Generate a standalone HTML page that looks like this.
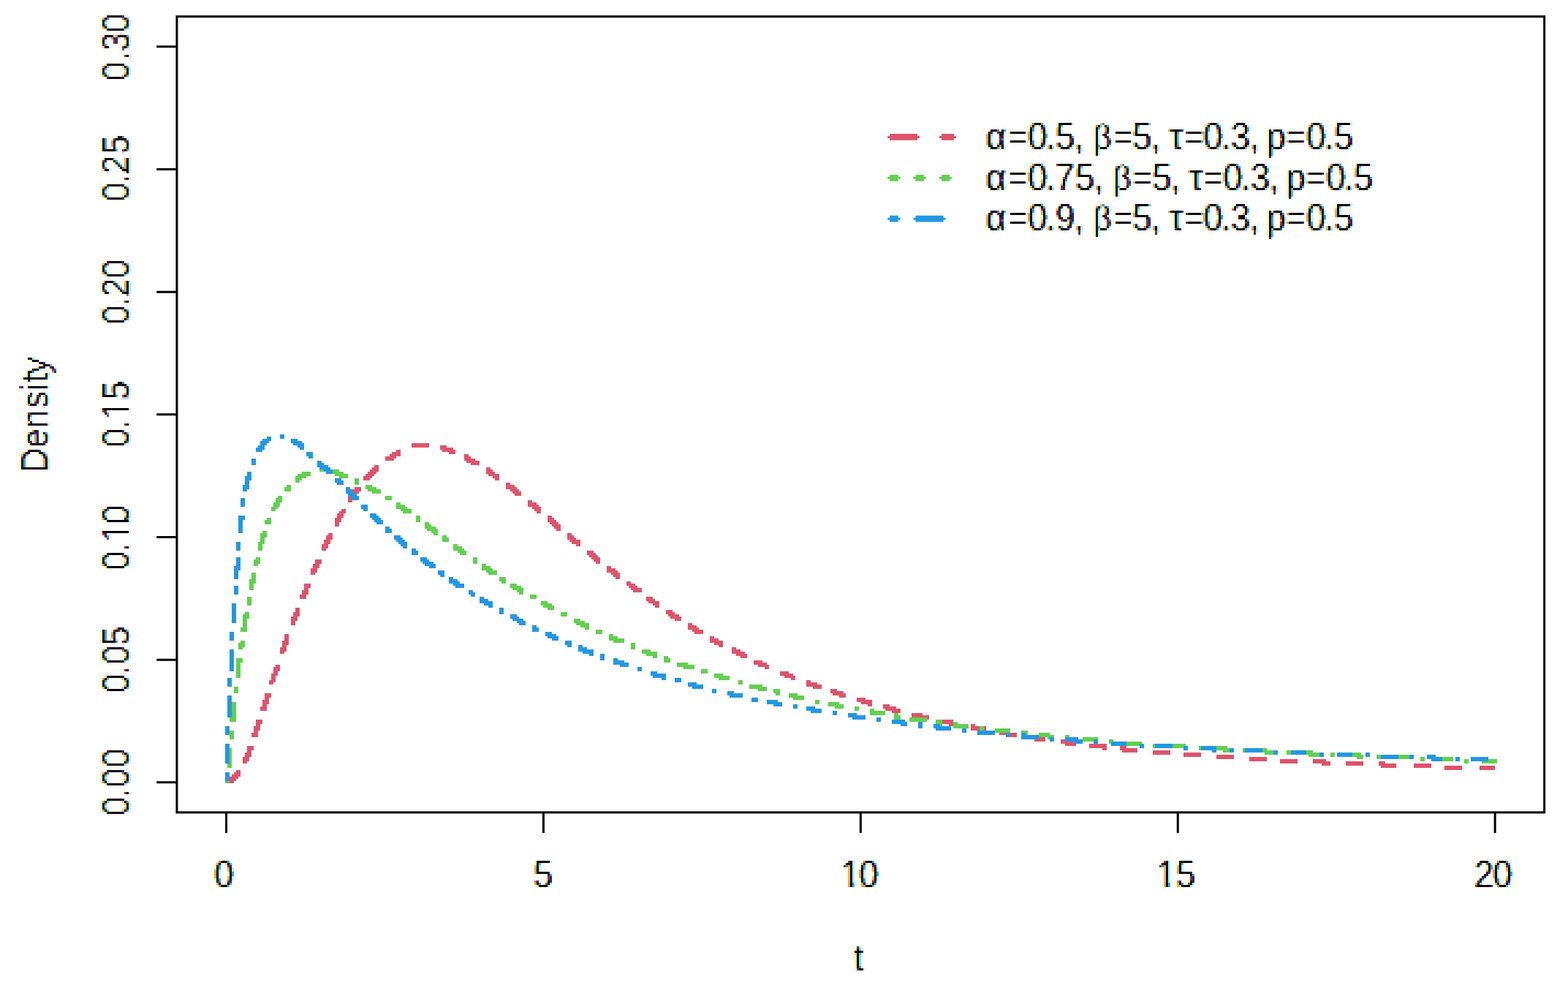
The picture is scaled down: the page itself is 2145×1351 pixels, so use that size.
<!DOCTYPE html>
<html lang="en"><head><meta charset="utf-8"><title>Density plot</title>
<style>html,body{margin:0;padding:0;background:#fff}body{width:2145px;height:1351px;overflow:hidden}svg{display:block}text{font-family:"Liberation Sans",Arial,Helvetica,sans-serif;font-size:48px;fill:#000}</style>
</head><body>
<svg width="2145" height="1351" viewBox="0 0 2145 1351">
<rect x="0" y="0" width="2145" height="1351" fill="#fff"/>
<defs><filter id="fx" filterUnits="userSpaceOnUse" primitiveUnits="userSpaceOnUse" x="287" y="1171" width="1794" height="48" color-interpolation-filters="sRGB"><feGaussianBlur in="SourceAlpha" stdDeviation="0.45 0.9"/><feComponentTransfer><feFuncA type="linear" slope="6" intercept="-3.22"/></feComponentTransfer><feConvolveMatrix order="3 1" kernelMatrix="1 1 1" divisor="3" edgeMode="none" preserveAlpha="false" result="c"/><feFlood x="288" y="1172" width="1" height="1" flood-color="#000" result="p"/><feComposite in="p" in2="p" operator="over" x="287" y="1171" width="3" height="3"/><feTile result="t"/><feComposite in="c" in2="t" operator="in"/><feMorphology operator="dilate" radius="1"/><feColorMatrix type="matrix" values="0 0 0 0 0 0 0 0 1 0 0 0 0 0 0 0 0 0 0 1" result="G"/><feOffset in="c" dx="1" dy="0"/><feComposite in2="t" operator="in"/><feMorphology operator="dilate" radius="1"/><feColorMatrix type="matrix" values="0 0 0 1 0 0 0 0 0 0 0 0 0 0 0 0 0 0 0 1" result="R"/><feOffset in="c" dx="-1" dy="0"/><feComposite in2="t" operator="in"/><feMorphology operator="dilate" radius="1"/><feColorMatrix type="matrix" values="0 0 0 0 0 0 0 0 0 0 0 0 0 1 0 0 0 0 0 1"/><feComposite in2="G" operator="arithmetic" k1="0" k2="1" k3="1" k4="0"/><feComposite in2="R" operator="arithmetic" k1="0" k2="1" k3="1" k4="0"/><feComponentTransfer><feFuncR type="linear" slope="-1.4" intercept="1.1"/><feFuncG type="linear" slope="-1.4" intercept="1.1"/><feFuncB type="linear" slope="-1.4" intercept="1.1"/></feComponentTransfer></filter><filter id="ft" filterUnits="userSpaceOnUse" primitiveUnits="userSpaceOnUse" x="1157" y="1285" width="36" height="48" color-interpolation-filters="sRGB"><feGaussianBlur in="SourceAlpha" stdDeviation="0.45 0.9"/><feComponentTransfer><feFuncA type="linear" slope="6" intercept="-3.22"/></feComponentTransfer><feConvolveMatrix order="3 1" kernelMatrix="1 1 1" divisor="3" edgeMode="none" preserveAlpha="false" result="c"/><feFlood x="1158" y="1286" width="1" height="1" flood-color="#000" result="p"/><feComposite in="p" in2="p" operator="over" x="1157" y="1285" width="3" height="3"/><feTile result="t"/><feComposite in="c" in2="t" operator="in"/><feMorphology operator="dilate" radius="1"/><feColorMatrix type="matrix" values="0 0 0 0 0 0 0 0 1 0 0 0 0 0 0 0 0 0 0 1" result="G"/><feOffset in="c" dx="1" dy="0"/><feComposite in2="t" operator="in"/><feMorphology operator="dilate" radius="1"/><feColorMatrix type="matrix" values="0 0 0 1 0 0 0 0 0 0 0 0 0 0 0 0 0 0 0 1" result="R"/><feOffset in="c" dx="-1" dy="0"/><feComposite in2="t" operator="in"/><feMorphology operator="dilate" radius="1"/><feColorMatrix type="matrix" values="0 0 0 0 0 0 0 0 0 0 0 0 0 1 0 0 0 0 0 1"/><feComposite in2="G" operator="arithmetic" k1="0" k2="1" k3="1" k4="0"/><feComposite in2="R" operator="arithmetic" k1="0" k2="1" k3="1" k4="0"/><feComponentTransfer><feFuncR type="linear" slope="-1.4" intercept="1.1"/><feFuncG type="linear" slope="-1.4" intercept="1.1"/><feFuncB type="linear" slope="-1.4" intercept="1.1"/></feComponentTransfer></filter><filter id="fy" filterUnits="userSpaceOnUse" primitiveUnits="userSpaceOnUse" x="134" y="12" width="48" height="1110" color-interpolation-filters="sRGB"><feGaussianBlur in="SourceAlpha" stdDeviation="0 0.9"/><feComponentTransfer><feFuncA type="linear" slope="6" intercept="-3.52"/></feComponentTransfer><feConvolveMatrix order="3 1" kernelMatrix="1 1 1" divisor="3" edgeMode="none" preserveAlpha="false" result="c"/><feFlood x="135" y="13" width="1" height="1" flood-color="#000" result="p"/><feComposite in="p" in2="p" operator="over" x="134" y="12" width="3" height="3"/><feTile result="t"/><feComposite in="c" in2="t" operator="in"/><feMorphology operator="dilate" radius="1"/><feColorMatrix type="matrix" values="0 0 0 0 0 0 0 0 1 0 0 0 0 0 0 0 0 0 0 1" result="G"/><feOffset in="c" dx="1" dy="0"/><feComposite in2="t" operator="in"/><feMorphology operator="dilate" radius="1"/><feColorMatrix type="matrix" values="0 0 0 1 0 0 0 0 0 0 0 0 0 0 0 0 0 0 0 1" result="R"/><feOffset in="c" dx="-1" dy="0"/><feComposite in2="t" operator="in"/><feMorphology operator="dilate" radius="1"/><feColorMatrix type="matrix" values="0 0 0 0 0 0 0 0 0 0 0 0 0 1 0 0 0 0 0 1"/><feComposite in2="G" operator="arithmetic" k1="0" k2="1" k3="1" k4="0"/><feComposite in2="R" operator="arithmetic" k1="0" k2="1" k3="1" k4="0"/><feComponentTransfer><feFuncR type="linear" slope="-1.4" intercept="1.1"/><feFuncG type="linear" slope="-1.4" intercept="1.1"/><feFuncB type="linear" slope="-1.4" intercept="1.1"/></feComponentTransfer></filter><filter id="fd" filterUnits="userSpaceOnUse" primitiveUnits="userSpaceOnUse" x="23" y="480" width="63" height="171" color-interpolation-filters="sRGB"><feGaussianBlur in="SourceAlpha" stdDeviation="0 0.9"/><feComponentTransfer><feFuncA type="linear" slope="6" intercept="-3.52"/></feComponentTransfer><feConvolveMatrix order="3 1" kernelMatrix="1 1 1" divisor="3" edgeMode="none" preserveAlpha="false" result="c"/><feFlood x="24" y="481" width="1" height="1" flood-color="#000" result="p"/><feComposite in="p" in2="p" operator="over" x="23" y="480" width="3" height="3"/><feTile result="t"/><feComposite in="c" in2="t" operator="in"/><feMorphology operator="dilate" radius="1"/><feColorMatrix type="matrix" values="0 0 0 0 0 0 0 0 1 0 0 0 0 0 0 0 0 0 0 1" result="G"/><feOffset in="c" dx="1" dy="0"/><feComposite in2="t" operator="in"/><feMorphology operator="dilate" radius="1"/><feColorMatrix type="matrix" values="0 0 0 1 0 0 0 0 0 0 0 0 0 0 0 0 0 0 0 1" result="R"/><feOffset in="c" dx="-1" dy="0"/><feComposite in2="t" operator="in"/><feMorphology operator="dilate" radius="1"/><feColorMatrix type="matrix" values="0 0 0 0 0 0 0 0 0 0 0 0 0 1 0 0 0 0 0 1"/><feComposite in2="G" operator="arithmetic" k1="0" k2="1" k3="1" k4="0"/><feComposite in2="R" operator="arithmetic" k1="0" k2="1" k3="1" k4="0"/><feComponentTransfer><feFuncR type="linear" slope="-1.4" intercept="1.1"/><feFuncG type="linear" slope="-1.4" intercept="1.1"/><feFuncB type="linear" slope="-1.4" intercept="1.1"/></feComponentTransfer></filter><filter id="fl1" filterUnits="userSpaceOnUse" primitiveUnits="userSpaceOnUse" x="1343" y="162" width="546" height="57" color-interpolation-filters="sRGB"><feGaussianBlur in="SourceAlpha" stdDeviation="0.45 0.9"/><feComponentTransfer><feFuncA type="linear" slope="6" intercept="-3.22"/></feComponentTransfer><feConvolveMatrix order="3 1" kernelMatrix="1 1 1" divisor="3" edgeMode="none" preserveAlpha="false" result="c"/><feFlood x="1344" y="163" width="1" height="1" flood-color="#000" result="p"/><feComposite in="p" in2="p" operator="over" x="1343" y="162" width="3" height="3"/><feTile result="t"/><feComposite in="c" in2="t" operator="in"/><feMorphology operator="dilate" radius="1"/><feColorMatrix type="matrix" values="0 0 0 0 0 0 0 0 1 0 0 0 0 0 0 0 0 0 0 1" result="G"/><feOffset in="c" dx="1" dy="0"/><feComposite in2="t" operator="in"/><feMorphology operator="dilate" radius="1"/><feColorMatrix type="matrix" values="0 0 0 1 0 0 0 0 0 0 0 0 0 0 0 0 0 0 0 1" result="R"/><feOffset in="c" dx="-1" dy="0"/><feComposite in2="t" operator="in"/><feMorphology operator="dilate" radius="1"/><feColorMatrix type="matrix" values="0 0 0 0 0 0 0 0 0 0 0 0 0 1 0 0 0 0 0 1"/><feComposite in2="G" operator="arithmetic" k1="0" k2="1" k3="1" k4="0"/><feComposite in2="R" operator="arithmetic" k1="0" k2="1" k3="1" k4="0"/><feComponentTransfer><feFuncR type="linear" slope="-1.4" intercept="1.1"/><feFuncG type="linear" slope="-1.4" intercept="1.1"/><feFuncB type="linear" slope="-1.4" intercept="1.1"/></feComponentTransfer></filter><filter id="fl2" filterUnits="userSpaceOnUse" primitiveUnits="userSpaceOnUse" x="1343" y="221" width="546" height="54" color-interpolation-filters="sRGB"><feGaussianBlur in="SourceAlpha" stdDeviation="0.45 0.9"/><feComponentTransfer><feFuncA type="linear" slope="6" intercept="-3.22"/></feComponentTransfer><feConvolveMatrix order="3 1" kernelMatrix="1 1 1" divisor="3" edgeMode="none" preserveAlpha="false" result="c"/><feFlood x="1344" y="222" width="1" height="1" flood-color="#000" result="p"/><feComposite in="p" in2="p" operator="over" x="1343" y="221" width="3" height="3"/><feTile result="t"/><feComposite in="c" in2="t" operator="in"/><feMorphology operator="dilate" radius="1"/><feColorMatrix type="matrix" values="0 0 0 0 0 0 0 0 1 0 0 0 0 0 0 0 0 0 0 1" result="G"/><feOffset in="c" dx="1" dy="0"/><feComposite in2="t" operator="in"/><feMorphology operator="dilate" radius="1"/><feColorMatrix type="matrix" values="0 0 0 1 0 0 0 0 0 0 0 0 0 0 0 0 0 0 0 1" result="R"/><feOffset in="c" dx="-1" dy="0"/><feComposite in2="t" operator="in"/><feMorphology operator="dilate" radius="1"/><feColorMatrix type="matrix" values="0 0 0 0 0 0 0 0 0 0 0 0 0 1 0 0 0 0 0 1"/><feComposite in2="G" operator="arithmetic" k1="0" k2="1" k3="1" k4="0"/><feComposite in2="R" operator="arithmetic" k1="0" k2="1" k3="1" k4="0"/><feComponentTransfer><feFuncR type="linear" slope="-1.4" intercept="1.1"/><feFuncG type="linear" slope="-1.4" intercept="1.1"/><feFuncB type="linear" slope="-1.4" intercept="1.1"/></feComponentTransfer></filter><filter id="fl3" filterUnits="userSpaceOnUse" primitiveUnits="userSpaceOnUse" x="1343" y="276" width="546" height="54" color-interpolation-filters="sRGB"><feGaussianBlur in="SourceAlpha" stdDeviation="0.45 0.9"/><feComponentTransfer><feFuncA type="linear" slope="6" intercept="-3.22"/></feComponentTransfer><feConvolveMatrix order="3 1" kernelMatrix="1 1 1" divisor="3" edgeMode="none" preserveAlpha="false" result="c"/><feFlood x="1344" y="277" width="1" height="1" flood-color="#000" result="p"/><feComposite in="p" in2="p" operator="over" x="1343" y="276" width="3" height="3"/><feTile result="t"/><feComposite in="c" in2="t" operator="in"/><feMorphology operator="dilate" radius="1"/><feColorMatrix type="matrix" values="0 0 0 0 0 0 0 0 1 0 0 0 0 0 0 0 0 0 0 1" result="G"/><feOffset in="c" dx="1" dy="0"/><feComposite in2="t" operator="in"/><feMorphology operator="dilate" radius="1"/><feColorMatrix type="matrix" values="0 0 0 1 0 0 0 0 0 0 0 0 0 0 0 0 0 0 0 1" result="R"/><feOffset in="c" dx="-1" dy="0"/><feComposite in2="t" operator="in"/><feMorphology operator="dilate" radius="1"/><feColorMatrix type="matrix" values="0 0 0 0 0 0 0 0 0 0 0 0 0 1 0 0 0 0 0 1"/><feComposite in2="G" operator="arithmetic" k1="0" k2="1" k3="1" k4="0"/><feComposite in2="R" operator="arithmetic" k1="0" k2="1" k3="1" k4="0"/><feComponentTransfer><feFuncR type="linear" slope="-1.4" intercept="1.1"/><feFuncG type="linear" slope="-1.4" intercept="1.1"/><feFuncB type="linear" slope="-1.4" intercept="1.1"/></feComponentTransfer></filter></defs>
<g filter="url(#fx)">
<text transform="translate(0 1213) scale(1 1.083)" x="293.12" y="0">0</text>
<text transform="translate(0 1213) scale(1 1.083)" x="729.88" y="0">5</text>
<text transform="translate(0 1213) scale(1 1.083)" x="1150.3 1175.12" y="0">10</text>
<text transform="translate(0 1213) scale(1 1.083)" x="1582.3 1608.88" y="0">15</text>
<text transform="translate(0 1213) scale(1 1.083)" x="2016.64 2042.12" y="0">20</text>
</g>
<g filter="url(#ft)">
<text transform="translate(0 1327) scale(1 1.083)" x="1167.73" y="0">t</text>
</g>
<g filter="url(#fy)">
<text transform="translate(176 1069.8) rotate(-90) scale(1 1.083)" x="-46.08 -21.38 -7.08 19.92" y="0">0.00</text>
<text transform="translate(176 902.13) rotate(-90) scale(1 1.083)" x="-45.75 -21.04 -6.75 19.01" y="0">0.05</text>
<text transform="translate(176 734.47) rotate(-90) scale(1 1.083)" x="-45.41 -20.71 -7.23 17.59" y="0">0.10</text>
<text transform="translate(176 566.8) rotate(-90) scale(1 1.083)" x="-45.08 -20.37 -6.9 19.68" y="0">0.15</text>
<text transform="translate(176 399.14) rotate(-90) scale(1 1.083)" x="-44.74 -20.04 -7.46 18.26" y="0">0.20</text>
<text transform="translate(176 231.47) rotate(-90) scale(1 1.083)" x="-44.41 -19.7 -7.39 20.35" y="0">0.25</text>
<text transform="translate(176 63.81) rotate(-90) scale(1 1.083)" x="-47.07 -19.37 -6.67 18.93" y="0">0.30</text>
</g>
<g filter="url(#fd)">
<text transform="translate(65 565.1) rotate(-90) scale(1 1.083)" x="-81.56 -47.72 -20.84 6.37 30.28 41.83 53.48" y="0">Density</text>
</g>
<g filter="url(#fl1)">
<text transform="translate(0 204) scale(1 1.083)" x="1348.6 1379.68 1406.12 1430.82 1443.88 1469.56 1483.33 1495.52 1523.48 1548.88 1574.56 1589.33 1599.17 1620.48 1646.12 1670.82 1683.52 1709.56 1724.33 1732.16 1759.78 1787.12 1811.82 1824.88" y="0 -0.65 0 0 0 0 0 0 -0.65 0 0 0 0 -0.65 0 0 0 0 0 0 -0.65 0 0 0">α<tspan font-size="44.3">=</tspan>0.5, <tspan font-size="44">β</tspan><tspan font-size="44.3">=</tspan>5, τ<tspan font-size="44.3">=</tspan>0.3, p<tspan font-size="44.3">=</tspan>0.5</text>
</g>
<g filter="url(#fl2)">
<text transform="translate(0 260) scale(1 1.083)" x="1348.6 1379.68 1406.12 1430.82 1443.27 1470.88 1496.56 1509.93 1522.52 1550.08 1575.88 1601.56 1615.93 1626.17 1647.08 1673.12 1697.82 1710.52 1736.56 1750.93 1759.16 1786.38 1814.12 1838.82 1851.88" y="0 -0.65 0 0 0 0 0 0 0 -0.65 0 0 0 0 -0.65 0 0 0 0 0 0 -0.65 0 0 0">α<tspan font-size="44.3">=</tspan>0.75, <tspan font-size="44">β</tspan><tspan font-size="44.3">=</tspan>5, τ<tspan font-size="44.3">=</tspan>0.3, p<tspan font-size="44.3">=</tspan>0.5</text>
</g>
<g filter="url(#fl3)">
<text transform="translate(0 315) scale(1 1.083)" x="1348.6 1379.68 1406.12 1430.82 1443.76 1469.56 1483.33 1495.52 1523.48 1548.88 1574.56 1589.33 1599.17 1620.48 1646.12 1670.82 1683.52 1709.56 1724.33 1732.16 1759.78 1787.12 1811.82 1824.88" y="0 -0.65 0 0 0 0 0 0 -0.65 0 0 0 0 -0.65 0 0 0 0 0 0 -0.65 0 0 0">α<tspan font-size="44.3">=</tspan>0.9, <tspan font-size="44">β</tspan><tspan font-size="44.3">=</tspan>5, τ<tspan font-size="44.3">=</tspan>0.3, p<tspan font-size="44.3">=</tspan>0.5</text>
</g>
<g shape-rendering="crispEdges"><rect x="170" y="543" width="6" height="3" fill="#cecece"/><rect x="176" y="543" width="3" height="3" fill="#ffffff"/><rect x="170" y="546" width="9" height="3" fill="#ffffff"/><rect x="170" y="549" width="9" height="3" fill="#ffffff"/><rect x="170" y="552" width="9" height="3" fill="#ffffff"/><rect x="170" y="555" width="9" height="3" fill="#ffffff"/><rect x="170" y="558" width="6" height="3" fill="#000000"/><rect x="176" y="558" width="3" height="3" fill="#abffff"/><rect x="170" y="561" width="9" height="3" fill="#ffffff"/><rect x="170" y="564" width="9" height="3" fill="#ffffff"/><rect x="170" y="567" width="9" height="3" fill="#ffffff"/><rect x="170" y="570" width="9" height="3" fill="#ffffff"/><rect x="170" y="573" width="9" height="3" fill="#ffffff"/><rect x="170" y="711" width="6" height="3" fill="#00001c"/><rect x="176" y="711" width="3" height="3" fill="#abffff"/><rect x="170" y="714" width="9" height="3" fill="#ffffff"/><rect x="170" y="717" width="9" height="3" fill="#ffffff"/><rect x="170" y="720" width="9" height="3" fill="#ffffff"/><rect x="170" y="723" width="9" height="3" fill="#ffffff"/><rect x="170" y="726" width="6" height="3" fill="#000000"/><rect x="176" y="726" width="3" height="3" fill="#abffff"/><rect x="170" y="729" width="9" height="3" fill="#ffffff"/><rect x="170" y="732" width="9" height="3" fill="#ffffff"/><rect x="170" y="735" width="9" height="3" fill="#ffffff"/><rect x="170" y="738" width="9" height="3" fill="#ffffff"/><rect x="170" y="741" width="9" height="3" fill="#ffffff"/><rect x="1163" y="1210" width="3" height="3" fill="#000000"/><rect x="1595" y="1210" width="3" height="3" fill="#000000"/><rect x="1166" y="1210" width="3" height="3" fill="#34abff"/><rect x="1598" y="1210" width="3" height="3" fill="#34abff"/><rect x="1160" y="1210" width="3" height="3" fill="#ffa12a"/><rect x="1178" y="1210" width="3" height="3" fill="#ffa12a"/><rect x="1592" y="1210" width="3" height="3" fill="#ffa12a"/><rect x="1610" y="1210" width="3" height="3" fill="#ffa12a"/><rect x="1148" y="1210" width="12" height="3" fill="#ffffff"/><rect x="1169" y="1210" width="9" height="3" fill="#ffffff"/><rect x="1580" y="1210" width="12" height="3" fill="#ffffff"/><rect x="1601" y="1210" width="9" height="3" fill="#ffffff"/></g>
<g shape-rendering="crispEdges">
<path fill="#DF536B" d="M563 606h24v6h-24zM602 609h9v3h-9zM602 612h18v3h-18zM542 615h6v3h-6zM605 615h18v3h-18zM536 618h12v3h-12zM614 618h9v3h-9zM533 621h15v3h-15zM635 621h6v3h-6zM527 624h15v3h-15zM635 624h9v3h-9zM527 627h12v3h-12zM635 627h15v3h-15zM638 630h18v3h-18zM644 633h12v3h-12zM512 636h6v3h-6zM509 639h9v3h-9zM665 639h6v3h-6zM506 642h12v3h-12zM665 642h9v3h-9zM503 645h12v3h-12zM665 645h12v3h-12zM500 648h12v3h-12zM668 648h15v3h-15zM497 651h12v3h-12zM674 651h9v3h-9zM497 654h9v3h-9zM677 654h6v3h-6zM692 660h6v3h-6zM692 663h12v3h-12zM485 666h9v3h-9zM692 666h15v3h-15zM482 669h12v3h-12zM698 669h12v3h-12zM482 672h9v3h-9zM701 672h12v3h-12zM479 675h9v3h-9zM704 675h9v3h-9zM476 678h12v3h-12zM476 681h9v3h-9zM476 684h6v3h-6zM722 684h6v3h-6zM722 687h12v3h-12zM722 690h15v3h-15zM728 693h12v3h-12zM467 696h6v3h-6zM731 696h9v3h-9zM464 699h9v3h-9zM734 699h6v3h-6zM461 702h9v6h-9zM749 705h6v3h-6zM458 708h9v6h-9zM749 708h9v3h-9zM749 711h12v3h-12zM458 714h6v6h-6zM752 714h12v3h-12zM755 717h12v3h-12zM758 720h9v3h-9zM761 723h6v3h-6zM449 729h6v3h-6zM776 729h6v3h-6zM446 732h9v6h-9zM776 732h9v3h-9zM776 735h12v3h-12zM443 738h9v6h-9zM779 738h15v3h-15zM782 741h12v3h-12zM440 744h9v6h-9zM788 744h6v3h-6zM440 750h6v3h-6zM803 753h9v3h-9zM803 756h12v3h-12zM806 759h12v3h-12zM809 762h12v3h-12zM431 765h9v6h-9zM812 765h9v3h-9zM815 768h6v3h-6zM428 771h9v6h-9zM830 774h6v3h-6zM425 777h9v6h-9zM830 777h12v3h-12zM830 780h15v3h-15zM425 783h6v3h-6zM836 783h12v3h-12zM839 786h9v3h-9zM842 789h6v3h-6zM857 795h6v3h-6zM416 798h9v6h-9zM857 798h12v3h-12zM860 801h12v3h-12zM416 804h6v3h-6zM863 804h15v3h-15zM413 807h9v6h-9zM866 807h12v3h-12zM410 813h9v6h-9zM884 816h9v3h-9zM884 819h12v3h-12zM887 822h15v3h-15zM893 825h9v3h-9zM896 828h6v3h-6zM404 831h6v6h-6zM911 834h9v3h-9zM401 837h9v6h-9zM911 837h12v3h-12zM914 840h15v3h-15zM398 843h9v6h-9zM917 843h15v3h-15zM923 846h9v3h-9zM398 849h6v6h-6zM941 852h6v3h-6zM941 855h12v3h-12zM941 858h15v3h-15zM947 861h15v3h-15zM950 864h12v3h-12zM389 867h6v9h-6zM971 870h6v3h-6zM971 873h12v3h-12zM386 876h9v6h-9zM971 876h18v3h-18zM977 879h12v3h-12zM386 882h6v3h-6zM983 882h6v3h-6zM383 885h9v6h-9zM1001 885h6v3h-6zM1001 888h12v3h-12zM383 891h6v3h-6zM1001 891h18v3h-18zM1007 894h15v3h-15zM1013 897h9v3h-9zM1031 903h12v3h-12zM1031 906h18v3h-18zM377 909h6v3h-6zM1037 909h15v3h-15zM374 912h9v6h-9zM1046 912h6v3h-6zM374 918h6v3h-6zM1067 918h12v3h-12zM371 921h9v3h-9zM1067 921h18v3h-18zM371 924h6v6h-6zM1073 924h15v3h-15zM1082 927h6v3h-6zM368 930h9v3h-9zM1103 930h6v3h-6zM368 933h6v3h-6zM1103 933h15v3h-15zM1103 936h21v3h-21zM1112 939h12v3h-12zM1136 942h9v3h-9zM1136 945h18v3h-18zM362 948h9v6h-9zM1139 948h18v3h-18zM1148 951h9v3h-9zM362 954h6v3h-6zM1172 954h12v3h-12zM359 957h9v6h-9zM1172 957h21v3h-21zM1178 960h15v3h-15zM359 963h6v3h-6zM1187 963h6v3h-6zM1208 963h9v3h-9zM356 966h9v6h-9zM1208 966h18v3h-18zM1211 969h21v3h-21zM1220 972h12v3h-12zM1247 975h15v3h-15zM1247 978h24v3h-24zM1259 981h12v3h-12zM350 984h9v6h-9zM1286 984h18v3h-18zM1286 987h24v3h-24zM350 990h6v3h-6zM1298 990h12v3h-12zM1328 990h6v3h-6zM347 993h9v6h-9zM1328 993h21v6h-21zM347 999h6v3h-6zM1343 999h6v3h-6zM1367 999h15v3h-15zM344 1002h9v6h-9zM1367 1002h24v3h-24zM1376 1005h15v3h-15zM1409 1005h12v3h-12zM1409 1008h21v3h-21zM1415 1011h15v3h-15zM1451 1011h12v3h-12zM1451 1014h21v3h-21zM1457 1017h15v3h-15zM1490 1017h24v6h-24zM338 1020h9v6h-9zM1532 1020h9v3h-9zM1508 1023h6v3h-6zM1532 1023h24v3h-24zM338 1026h6v3h-6zM1535 1026h21v3h-21zM1577 1026h24v6h-24zM335 1029h9v6h-9zM1619 1029h24v6h-24zM1664 1032h24v6h-24zM332 1035h9v6h-9zM1709 1035h24v6h-24zM1751 1038h24v6h-24zM1796 1038h18v3h-18zM332 1041h6v3h-6zM1796 1041h24v3h-24zM1841 1041h24v6h-24zM1886 1041h9v3h-9zM1808 1044h12v3h-12zM1886 1044h24v3h-24zM1934 1044h24v6h-24zM1889 1047h21v3h-21zM1976 1047h24v6h-24zM2024 1047h21v6h-21zM323 1053h6v3h-6zM320 1056h9v3h-9zM317 1059h12v3h-12zM314 1062h12v3h-12zM311 1065h12v3h-12zM311 1068h9v3h-9z"/>
<path fill="#61D04F" d="M437 639h6v6h-6zM455 642h9v3h-9zM413 645h12v3h-12zM455 645h15v3h-15zM407 648h18v3h-18zM458 648h18v3h-18zM404 651h15v3h-15zM464 651h12v3h-12zM404 654h9v3h-9zM485 654h6v9h-6zM404 657h6v3h-6zM392 663h6v3h-6zM500 663h9v3h-9zM389 666h9v6h-9zM500 666h15v3h-15zM503 669h18v3h-18zM509 672h12v3h-12zM380 678h6v3h-6zM527 678h9v6h-9zM377 681h9v6h-9zM374 687h9v6h-9zM542 687h6v3h-6zM542 690h12v3h-12zM371 693h9v3h-9zM542 693h15v3h-15zM371 696h6v3h-6zM548 696h15v3h-15zM551 699h12v3h-12zM569 705h6v9h-6zM365 708h6v3h-6zM362 711h9v6h-9zM581 714h6v3h-6zM581 717h9v3h-9zM581 720h15v3h-15zM584 723h15v3h-15zM359 726h6v3h-6zM590 726h9v3h-9zM356 729h9v6h-9zM593 729h6v3h-6zM605 732h6v3h-6zM356 735h6v6h-6zM605 735h9v6h-9zM353 741h9v3h-9zM353 744h6v9h-6zM620 744h6v3h-6zM620 747h12v3h-12zM620 750h15v3h-15zM626 753h12v3h-12zM629 756h9v3h-9zM350 762h6v3h-6zM647 762h6v9h-6zM347 765h9v6h-9zM347 771h6v3h-6zM659 771h6v3h-6zM659 774h12v3h-12zM659 777h15v3h-15zM665 780h15v3h-15zM344 783h6v9h-6zM668 783h12v3h-12zM683 789h9v6h-9zM341 792h9v6h-9zM686 795h6v3h-6zM341 798h6v9h-6zM698 798h9v3h-9zM698 801h15v3h-15zM701 804h15v3h-15zM707 807h9v3h-9zM710 810h6v3h-6zM725 813h9v6h-9zM338 816h6v12h-6zM740 822h9v3h-9zM740 825h15v3h-15zM743 828h15v3h-15zM749 831h9v3h-9zM335 837h6v3h-6zM767 837h9v6h-9zM332 840h9v6h-9zM332 846h6v12h-6zM785 846h9v3h-9zM785 849h15v3h-15zM788 852h18v3h-18zM794 855h12v3h-12zM329 858h9v6h-9zM800 858h6v3h-6zM815 861h9v6h-9zM833 867h6v3h-6zM833 870h12v3h-12zM833 873h21v3h-21zM329 876h6v3h-6zM839 876h15v3h-15zM326 879h9v6h-9zM863 879h6v9h-6zM326 885h6v3h-6zM878 888h12v3h-12zM878 891h21v3h-21zM884 894h15v3h-15zM893 897h6v3h-6zM908 897h6v3h-6zM323 900h9v6h-9zM908 900h9v6h-9zM323 906h6v21h-6zM926 906h15v3h-15zM926 909h24v3h-24zM935 912h15v3h-15zM959 915h9v6h-9zM977 921h12v3h-12zM977 924h21v3h-21zM983 927h15v3h-15zM1010 930h6v6h-6zM1025 936h18v3h-18zM320 939h6v9h-6zM1025 939h24v3h-24zM1037 942h12v3h-12zM1058 942h9v6h-9zM1061 948h6v3h-6zM1079 948h12v3h-12zM1079 951h21v3h-21zM1085 954h15v3h-15zM1115 957h6v6h-6zM317 960h6v21h-6zM1133 960h15v3h-15zM1133 963h21v3h-21zM1142 966h12v3h-12zM1169 966h6v6h-6zM1190 969h6v3h-6zM1190 972h21v6h-21zM1223 975h6v3h-6zM1223 978h9v6h-9zM314 981h9v6h-9zM1244 981h24v6h-24zM1280 984h9v6h-9zM1304 987h6v3h-6zM1283 990h6v3h-6zM1304 990h21v6h-21zM1340 993h6v6h-6zM1361 996h21v6h-21zM314 999h6v12h-6zM1397 999h9v6h-9zM1376 1002h6v3h-6zM1421 1002h15v3h-15zM1421 1005h21v3h-21zM1457 1005h6v6h-6zM1433 1008h9v3h-9zM1481 1008h21v6h-21zM1517 1011h6v6h-6zM1496 1014h6v3h-6zM1541 1014h21v6h-21zM1577 1017h6v6h-6zM1601 1017h21v6h-21zM1640 1020h6v6h-6zM1661 1020h18v3h-18zM311 1023h6v27h-6zM1661 1023h24v3h-24zM1700 1023h6v6h-6zM1724 1023h9v3h-9zM1673 1026h12v3h-12zM1724 1026h21v3h-21zM1760 1026h6v6h-6zM1781 1026h15v3h-15zM1730 1029h15v3h-15zM1781 1029h24v3h-24zM1820 1029h6v6h-6zM1844 1029h18v3h-18zM1790 1032h15v3h-15zM1844 1032h21v3h-21zM1883 1032h6v6h-6zM1904 1032h24v6h-24zM1856 1035h9v3h-9zM1943 1035h6v6h-6zM1967 1035h21v6h-21zM2003 1038h6v6h-6zM2027 1038h21v6h-21zM308 1062h6v9h-6z"/>
<path fill="#2297E6" d="M383 594h6v6h-6zM365 597h6v3h-6zM359 600h12v3h-12zM398 600h9v3h-9zM356 603h12v3h-12zM398 603h15v3h-15zM356 606h9v3h-9zM401 606h15v3h-15zM353 609h9v3h-9zM407 609h9v3h-9zM350 612h12v3h-12zM410 612h6v3h-6zM350 615h9v3h-9zM419 618h9v6h-9zM422 624h6v3h-6zM344 627h6v9h-6zM434 630h6v3h-6zM434 633h9v3h-9zM434 636h15v3h-15zM437 639h15v3h-15zM443 642h12v3h-12zM338 645h6v6h-6zM446 645h9v3h-9zM335 651h9v6h-9zM458 654h9v3h-9zM335 657h6v6h-6zM458 657h12v3h-12zM461 660h9v3h-9zM332 663h9v6h-9zM473 666h6v3h-6zM332 669h6v3h-6zM473 669h9v3h-9zM473 672h12v3h-12zM476 675h12v3h-12zM479 678h12v3h-12zM329 681h6v12h-6zM482 681h9v3h-9zM494 690h9v6h-9zM497 696h6v3h-6zM506 702h9v3h-9zM326 705h9v6h-9zM506 705h12v3h-12zM509 708h12v3h-12zM326 711h6v18h-6zM512 711h12v3h-12zM515 714h9v3h-9zM527 720h6v3h-6zM527 723h9v6h-9zM539 732h9v3h-9zM539 735h12v3h-12zM542 738h12v3h-12zM323 741h6v12h-6zM545 741h12v3h-12zM548 744h9v3h-9zM551 747h6v3h-6zM563 750h6v3h-6zM563 753h9v6h-9zM323 762h6v12h-6zM575 762h9v3h-9zM575 765h12v3h-12zM578 768h15v3h-15zM581 771h15v3h-15zM320 774h9v6h-9zM587 774h9v3h-9zM320 780h6v12h-6zM599 780h9v6h-9zM602 786h6v3h-6zM614 789h6v3h-6zM614 792h12v3h-12zM614 795h15v3h-15zM620 798h15v3h-15zM320 801h6v12h-6zM623 801h12v3h-12zM641 807h6v3h-6zM641 810h9v3h-9zM644 813h6v3h-6zM656 816h6v3h-6zM656 819h12v3h-12zM656 822h18v3h-18zM317 825h6v27h-6zM662 825h12v3h-12zM668 828h6v3h-6zM683 831h6v9h-6zM698 840h9v3h-9zM698 843h12v3h-12zM701 846h15v3h-15zM707 849h12v3h-12zM710 852h9v3h-9zM728 855h6v3h-6zM728 858h9v6h-9zM314 864h6v12h-6zM746 864h9v3h-9zM746 867h15v3h-15zM749 870h15v3h-15zM755 873h9v3h-9zM773 876h9v6h-9zM776 882h6v3h-6zM791 882h6v3h-6zM791 885h12v3h-12zM314 888h6v30h-6zM791 888h21v3h-21zM797 891h15v3h-15zM806 894h6v3h-6zM821 894h6v9h-6zM839 900h6v3h-6zM839 903h15v3h-15zM839 906h21v3h-21zM848 909h12v3h-12zM872 912h6v6h-6zM890 918h9v3h-9zM890 921h21v3h-21zM893 924h18v3h-18zM311 927h6v12h-6zM905 927h6v3h-6zM923 927h9v6h-9zM941 933h12v3h-12zM941 936h21v3h-21zM947 939h15v3h-15zM974 942h6v6h-6zM995 945h9v3h-9zM995 948h21v3h-21zM311 951h6v30h-6zM998 951h18v3h-18zM1028 954h9v6h-9zM1049 957h15v3h-15zM1049 960h21v3h-21zM1058 963h12v3h-12zM1085 963h6v6h-6zM1103 966h12v3h-12zM1103 969h21v3h-21zM1109 972h15v3h-15zM1139 972h6v6h-6zM1160 975h12v3h-12zM1160 978h24v3h-24zM1166 981h18v3h-18zM1199 981h6v6h-6zM1220 984h18v3h-18zM1220 987h21v3h-21zM1256 987h6v9h-6zM1232 990h9v3h-9zM1277 990h9v3h-9zM308 993h6v12h-6zM1277 993h24v3h-24zM1280 996h21v3h-21zM1316 996h6v6h-6zM1337 999h24v6h-24zM1376 1002h6v6h-6zM1397 1002h6v3h-6zM1397 1005h24v6h-24zM1436 1008h6v6h-6zM1457 1008h18v3h-18zM1457 1011h24v3h-24zM1496 1011h6v6h-6zM1469 1014h12v3h-12zM1520 1014h21v6h-21zM308 1017h6v27h-6zM1559 1017h6v6h-6zM1580 1017h24v6h-24zM1619 1020h6v6h-6zM1643 1020h21v6h-21zM1682 1023h6v6h-6zM1703 1023h24v6h-24zM1658 1026h6v3h-6zM1742 1026h6v6h-6zM1766 1026h21v6h-21zM1805 1029h6v6h-6zM1829 1029h21v6h-21zM1868 1029h6v6h-6zM1889 1032h24v6h-24zM1928 1032h6v6h-6zM1952 1032h12v3h-12zM1952 1035h21v3h-21zM1991 1035h6v6h-6zM2012 1035h24v6h-24zM1958 1038h15v3h-15zM308 1056h6v12h-6z"/>
</g><g>
<path fill="#DF536B" d="M1217.2 183H1255V191.8H1217.2ZM1214.2 185.9H1258V188.9H1214.2Z"/>
<path fill="#DF536B" d="M1288 183H1305V191.8H1288ZM1285 185.9H1308V188.9H1285Z"/>
<path fill="#61D04F" d="M1217.2 238.9H1228.7V247.7H1217.2ZM1214.2 241.8H1231.7V244.8H1214.2Z"/>
<path fill="#61D04F" d="M1252.5 238.9H1263.9V247.7H1252.5ZM1249.5 241.8H1266.9V244.8H1249.5Z"/>
<path fill="#61D04F" d="M1288 238.9H1299V247.7H1288ZM1285 241.8H1302V244.8H1285Z"/>
<path fill="#2297E6" d="M1217.2 294.8H1228.7V303.6H1217.2ZM1214.2 297.7H1231.7V300.7H1214.2Z"/>
<path fill="#2297E6" d="M1252.5 294.8H1290.5V303.6H1252.5ZM1249.5 297.7H1293.5V300.7H1249.5Z"/>
</g>
<g stroke="#000" stroke-width="3" fill="none">
<rect x="241.95" y="22.6" width="1870.7" height="1088.3"/>
<path d="M309.55 1110.9V1138.9M743.45 1110.9V1138.9M1177.35 1110.9V1138.9M1611.25 1110.9V1138.9M2045.15 1110.9V1138.9M241.95 1069.8H214.2M241.95 902.13H214.2M241.95 734.47H214.2M241.95 566.8H214.2M241.95 399.14H214.2M241.95 231.47H214.2M241.95 63.81H214.2"/>
</g>
</svg>
</body></html>
